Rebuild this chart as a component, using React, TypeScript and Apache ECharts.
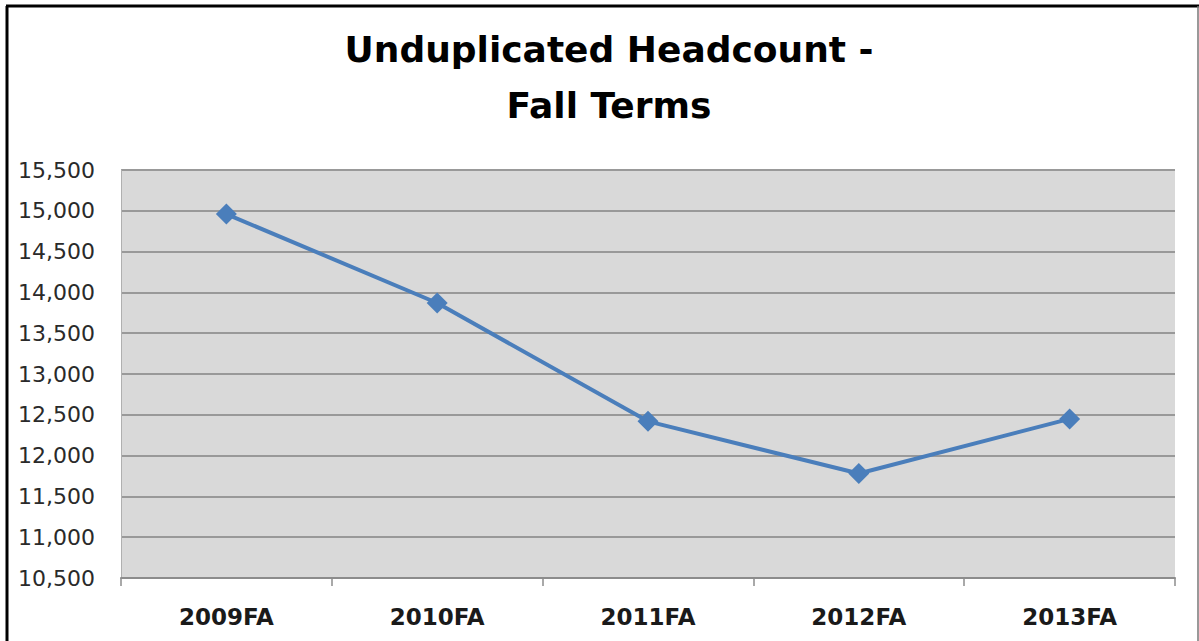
import React, { useEffect, useRef } from "react";
import * as echarts from "echarts";

const categories = ["2009FA", "2010FA", "2011FA", "2012FA", "2013FA"];
const headcount = [14960, 13870, 12420, 11780, 12450];
const yMin = 10500;
const yMax = 15500;
const yInterval = 500;
const titleText = "Unduplicated Headcount -\nFall Terms";

export default function App() {
  const ref = useRef<HTMLDivElement>(null);
  useEffect(() => {
    if (!ref.current) return;
    const chart = echarts.init(ref.current, null, { renderer: "svg" });
    chart.setOption({
      animation: false,
      backgroundColor: "#ffffff",
      title: {
        text: titleText,
        left: 604,
        textAlign: "center",
        top: 16,
        textStyle: {
          fontFamily: "DejaVu Sans",
          fontWeight: "bold",
          fontSize: 36,
          lineHeight: 56,
          color: "#000000",
        },
      },
      graphic: [
        { type: "line", shape: { x1: 7, y1: 6, x2: 7, y2: 641 }, style: { stroke: "#000", lineWidth: 3 } },
        { type: "line", shape: { x1: 6, y1: 6, x2: 1199, y2: 6 }, style: { stroke: "#000", lineWidth: 3 } },
        { type: "line", shape: { x1: 1198, y1: 6, x2: 1198, y2: 641 }, style: { stroke: "#777", lineWidth: 1.5 } },
      ],
      grid: {
        left: 121,
        right: 24,
        top: 170,
        bottom: 63,
        show: true,
        backgroundColor: "#d9d9d9",
        borderWidth: 0,
      },
      xAxis: {
        type: "category",
        data: categories,
        boundaryGap: true,
        axisLine: { show: true, lineStyle: { color: "#8c8c8c", width: 2 } },
        axisTick: { show: true, alignWithLabel: false, length: 8, lineStyle: { color: "#8c8c8c", width: 1.5 } },
        axisLabel: {
          margin: 27,
          fontFamily: "DejaVu Sans",
          fontWeight: "bold",
          fontSize: 23,
          color: "#1a1a1a",
        },
        splitLine: { show: false },
      },
      yAxis: {
        type: "value",
        min: yMin,
        max: yMax,
        interval: yInterval,
        axisLine: { show: true, lineStyle: { color: "#b0b0b0", width: 1 } },
        axisTick: { show: false },
        axisLabel: {
          margin: 26,
          fontFamily: "DejaVu Sans",
          fontSize: 22,
          color: "#2a2a2a",
          formatter: (v: number) => v.toLocaleString("en-US"),
        },
        splitLine: { show: true, lineStyle: { color: "#999999", width: 2 } },
      },
      series: [
        {
          type: "line",
          data: headcount,
          symbol: "diamond",
          symbolSize: 21,
          lineStyle: { color: "#4a7ebb", width: 4 },
          itemStyle: { color: "#4a7ebb" },
        },
      ],
    });
    return () => chart.dispose();
  }, []);
  return (
    <div
      ref={ref}
      style={{ position: "fixed", left: 0, top: 0, width: 1199, height: 641 }}
    />
  );
}
